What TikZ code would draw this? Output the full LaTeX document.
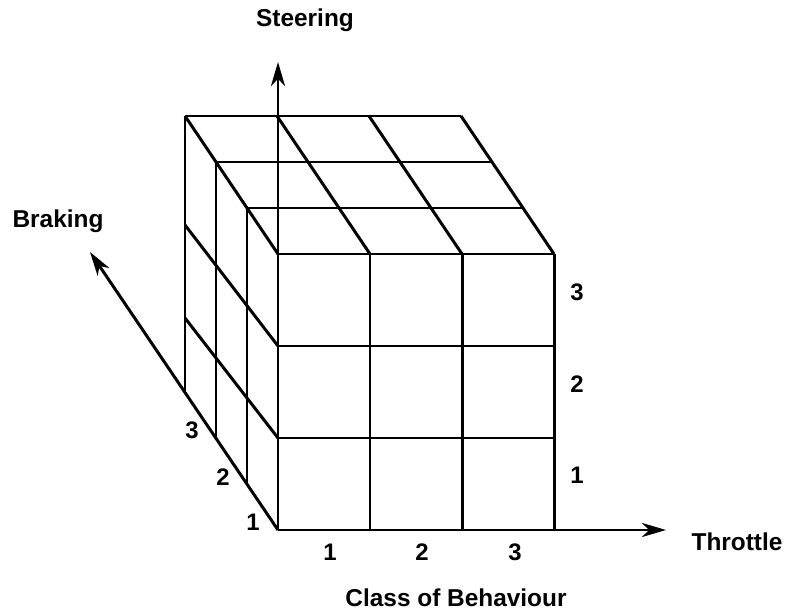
\documentclass[tikz,border=0pt]{standalone}
\usepackage{fontspec}
\setmainfont{Liberation Sans}
\usetikzlibrary{arrows.meta, positioning, calc}

\begin{document}
\begin{tikzpicture}[
        x=1bp, y=-1bp,
        grid/.style={line width=3pt, draw=black},
        axis/.style={-{Stealth[length=24pt, width=14pt, inset=7pt]}, line width=3pt, draw=black},
        tick/.style={font=\fontsize{24}{28}\selectfont\bfseries, inner sep=0pt, anchor=base},
        title/.style={font=\fontsize{24.5}{28}\selectfont\bfseries, inner sep=0pt, anchor=base}
    ]
        \useasboundingbox (0,0) rectangle (786,612);

        % Axis ends
        \coordinate (origin) at (278,530);
        \coordinate (steer) at (278,62);
        \coordinate (brake) at (90,252);
        \coordinate (throt) at (666,530);

        % Front face
        \foreach \i in {1,2,3} {
            \draw[grid] (278+92*\i,254) -- (278+92*\i,530);
            \draw[grid] (278,530-92*\i) -- (554,530-92*\i);
        }

        % Top face
        \foreach \k in {1,2,3}
            \draw[grid] (278-31*\k,254-46*\k) -- (554-31*\k,254-46*\k);
        \foreach \i in {0,...,3}
            \draw[grid] (278+92*\i,254) -- ++(-93,-138);

        % Left face
        \foreach \k in {1,2,3}
            \draw[grid] (278-31*\k,254-46*\k) -- (278-31*\k,530-46*\k);
        \draw[grid] (185,225) -- (278,346);
        \draw[grid] (185,318) -- (278,438);

        % Axes
        \draw[axis] (origin) -- (steer);
        \draw[axis] (origin) -- (brake);
        \draw[axis] (origin) -- (throt);

        % Axis titles
        \node[title] (steering) at (305,27) {Steering};
        \node[title] (braking) at (58,228) {Braking};
        \node[title] (throttle) at (737,550) {Throttle};
        \node[title] (class) at (456,606) {Class of Behaviour};

        % Classes along each axis
        \foreach \n/\x in {1/330, 2/422, 3/515}
            \node[tick] (t\n) at (\x,560) {\n};
        \foreach \n/\y in {1/483, 2/392, 3/300}
            \node[tick] (s\n) at (577,\y) {\n};
        \foreach \n/\x/\y in {1/253/530, 2/223/485, 3/192/438}
            \node[tick] (b\n) at (\x,\y) {\n};
    \end{tikzpicture}
\end{document}
